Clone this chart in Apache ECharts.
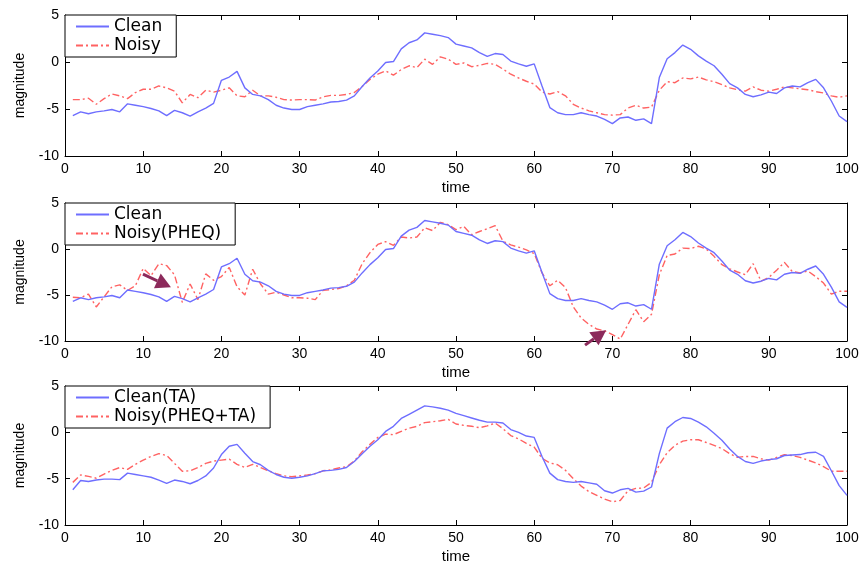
<!DOCTYPE html>
<html><head><meta charset="utf-8">
<script src="https://cdn.jsdelivr.net/npm/echarts@6/dist/echarts.min.js"></script>
<style>html,body{margin:0;padding:0;background:#fff}#c{width:862px;height:565px}</style>
</head><body><div id="c"></div>
<script>
const time = [1,2,3,4,5,6,7,8,9,10,11,12,13,14,15,16,17,18,19,20,21,22,23,24,25,26,27,28,29,30,31,32,33,34,35,36,37,38,39,40,41,42,43,44,45,46,47,48,49,50,51,52,53,54,55,56,57,58,59,60,61,62,63,64,65,66,67,68,69,70,71,72,73,74,75,76,77,78,79,80,81,82,83,84,85,86,87,88,89,90,91,92,93,94,95,96,97,98,99,100];

const clean = [-5.7,-5.3,-5.5,-5.3,-5.2,-5.05,-5.3,-4.45,-4.6,-4.75,
-4.95,-5.2,-5.7,-5.15,-5.4,-5.75,-5.3,-4.9,-4.4,-1.95,
-1.6,-1.0,-2.75,-3.45,-3.6,-4.0,-4.6,-4.9,-5.05,-5.05,
-4.75,-4.6,-4.45,-4.25,-4.2,-4.05,-3.6,-2.6,-1.7,-0.95,
-0.05,0.05,1.4,2.05,2.35,3.1,2.95,2.8,2.6,1.9,
1.7,1.5,1.0,0.6,0.9,0.8,0.1,-0.2,-0.45,-0.2,
-2.55,-4.85,-5.4,-5.6,-5.6,-5.4,-5.6,-5.75,-6.1,-6.55,
-5.95,-5.85,-6.2,-6.05,-6.55,-1.65,0.35,1.0,1.8,1.35,
0.65,0.1,-0.4,-1.3,-2.3,-2.75,-3.45,-3.7,-3.5,-3.2,
-3.35,-2.75,-2.55,-2.65,-2.2,-1.85,-2.75,-4.15,-5.75,-6.35];

const noisy = [-4.0,-4.0,-3.85,-4.5,-3.9,-3.4,-3.6,-3.9,-3.25,-2.9,
-2.9,-2.55,-2.75,-3.1,-4.35,-3.45,-3.8,-3.0,-3.2,-3.0,
-2.75,-3.6,-3.7,-3.0,-3.6,-3.6,-3.75,-4.0,-4.05,-4.0,
-4.0,-4.05,-3.7,-3.55,-3.55,-3.45,-3.25,-2.6,-1.85,-1.3,
-0.95,-1.4,-0.8,-0.4,-0.6,0.3,-0.25,0.55,0.3,-0.25,
-0.1,-0.5,-0.35,-0.15,-0.25,-0.75,-1.3,-1.7,-2.05,-2.35,
-3.2,-3.4,-3.15,-3.6,-4.5,-4.9,-5.2,-5.4,-5.6,-5.65,
-5.6,-4.9,-4.6,-4.9,-4.8,-3.0,-2.1,-2.2,-1.7,-1.8,
-1.6,-1.9,-2.1,-2.4,-2.75,-2.95,-3.1,-2.65,-3.0,-3.1,
-2.9,-2.65,-2.75,-2.85,-2.95,-3.15,-3.3,-3.6,-3.75,-3.6];

const noisyPHEQ = [-5.25,-5.3,-4.9,-6.3,-5.2,-4.1,-3.9,-4.5,-4.0,-2.1,
-2.9,-1.6,-1.8,-2.8,-5.8,-3.8,-5.5,-2.7,-3.4,-3.0,
-2.0,-4.1,-5.0,-2.2,-3.8,-4.9,-4.7,-5.0,-5.3,-5.3,
-5.35,-5.5,-4.5,-4.4,-4.3,-4.0,-3.4,-1.6,-0.4,0.5,
0.8,0.4,1.3,1.2,1.3,2.3,2.0,2.9,2.65,2.1,
2.45,1.55,1.9,2.2,2.55,0.85,0.45,0.2,-0.1,-0.5,
-2.6,-4.0,-3.4,-4.2,-6.3,-7.5,-8.2,-8.7,-8.9,-9.3,
-9.8,-8.2,-6.6,-7.9,-7.1,-2.8,-0.7,-0.55,0.1,0.05,
0.3,0.0,-0.8,-1.7,-2.15,-2.5,-2.8,-1.6,-3.5,-3.1,
-2.3,-1.45,-2.45,-2.6,-2.4,-3.0,-3.7,-4.9,-4.6,-4.6];

const cleanTA = [-6.2,-5.2,-5.3,-5.15,-5.05,-5.05,-5.1,-4.4,-4.55,-4.7,
-4.85,-5.15,-5.5,-5.15,-5.3,-5.55,-5.2,-4.7,-3.85,-2.4,
-1.5,-1.3,-2.25,-3.15,-3.5,-4.1,-4.55,-4.85,-4.95,-4.85,
-4.7,-4.45,-4.15,-4.1,-4.0,-3.8,-3.15,-2.3,-1.5,-0.8,
0.1,0.65,1.5,1.95,2.4,2.85,2.75,2.6,2.4,2.05,
1.8,1.55,1.3,1.1,1.1,1.0,0.3,0.0,-0.4,-0.55,
-2.6,-4.4,-5.1,-5.3,-5.4,-5.3,-5.45,-5.6,-6.3,-6.55,
-6.2,-6.05,-6.45,-6.35,-5.9,-2.3,0.45,1.15,1.6,1.5,
1.1,0.6,-0.1,-0.85,-1.8,-2.6,-3.15,-3.35,-3.1,-2.95,
-2.85,-2.5,-2.45,-2.4,-2.2,-2.15,-2.6,-4.15,-5.75,-6.8];

const noisyTA = [-5.4,-4.6,-4.75,-4.95,-4.5,-4.1,-3.8,-4.0,-3.45,-3.0,
-2.6,-2.3,-2.5,-3.35,-4.2,-4.15,-3.8,-3.35,-3.1,-3.0,
-2.9,-3.45,-3.8,-3.45,-3.8,-4.15,-4.45,-4.7,-4.8,-4.7,
-4.6,-4.45,-4.15,-4.05,-3.85,-3.7,-3.1,-2.1,-1.3,-0.55,
-0.2,-0.25,0.1,0.45,0.65,1.05,1.15,1.25,1.4,0.9,
0.75,0.65,0.5,0.7,1.0,0.4,-0.35,-0.7,-1.2,-1.6,
-2.8,-3.3,-3.5,-4.1,-5.0,-5.8,-6.4,-6.8,-7.2,-7.5,
-7.35,-6.3,-6.05,-6.0,-5.4,-3.5,-2.2,-1.4,-0.95,-0.8,
-0.8,-1.1,-1.4,-1.75,-2.3,-2.7,-2.6,-2.6,-2.85,-3.0,
-2.7,-2.4,-2.5,-2.7,-3.0,-3.3,-3.7,-4.2,-4.2,-4.2];

const xTicks = {min: 0, max: 100, interval: 10};
const yTicks = {min: -10, max: 5, interval: 5};

const panels = [
  {names: ['Clean', 'Noisy'], a: clean, b: noisy},
  {names: ['Clean', 'Noisy(PHEQ)'], a: clean, b: noisyPHEQ},
  {names: ['Clean(TA)', 'Noisy(PHEQ+TA)'], a: cleanTA, b: noisyTA}
];
// annotation arrows on panel 2 (data coords): [start, tip]
const arrows = [[[9.97, -2.74], [13.55, -4.15]], [[66.5, -10.45], [69.2, -8.82]]];

const FONT = 'Liberation Sans, Arial, sans-serif';
const LFONT = 'DejaVu Sans, sans-serif';
const BLUE = '#6e6eff', RED = '#ff6262', ARROW = '#8c2a5b';
const layout = [{top: 15, height: 141}, {top: 203, height: 138}, {top: 386, height: 141}];

const grid = [], xAxis = [], yAxis = [], series = [], legend = [];
panels.forEach((p, i) => {
  grid.push({left: 65, right: 15, top: layout[i].top, height: layout[i].height});
  const line = {onZero: false, lineStyle: {color: '#000', width: 1}};
  const tick = {inside: true, length: 5, lineStyle: {color: '#000', width: 1}};
  xAxis.push({type: 'value', gridIndex: i, min: xTicks.min, max: xTicks.max, interval: xTicks.interval,
    position: 'bottom', axisLine: line, axisTick: tick, splitLine: {show: false},
    axisLabel: {color: '#000', fontSize: 14, fontFamily: FONT, margin: 6},
    name: 'time', nameLocation: 'middle', nameGap: 24,
    nameTextStyle: {color: '#000', fontSize: 15, fontFamily: FONT}});
  xAxis.push({type: 'value', gridIndex: i, min: xTicks.min, max: xTicks.max, interval: xTicks.interval,
    position: 'top', axisLine: line, axisTick: tick, splitLine: {show: false}, axisLabel: {show: false}});
  yAxis.push({type: 'value', gridIndex: i, min: yTicks.min, max: yTicks.max, interval: yTicks.interval,
    position: 'left', axisLine: line, axisTick: tick, splitLine: {show: false},
    axisLabel: {color: '#000', fontSize: 14, fontFamily: FONT, margin: 6},
    name: 'magnitude', nameLocation: 'middle', nameGap: 38,
    nameTextStyle: {color: '#000', fontSize: 14, fontFamily: FONT}});
  yAxis.push({type: 'value', gridIndex: i, min: yTicks.min, max: yTicks.max, interval: yTicks.interval,
    position: 'right', axisLine: line, axisTick: tick, splitLine: {show: false}, axisLabel: {show: false}});
  series.push({name: p.names[0], type: 'line', xAxisIndex: 2 * i, yAxisIndex: 2 * i,
    data: time.map((t, k) => [t, p.a[k]]), symbol: 'none', showSymbol: false,
    lineStyle: {color: BLUE, width: 1.4}, itemStyle: {color: BLUE}, z: 3});
  series.push({name: p.names[1], type: 'line', xAxisIndex: 2 * i, yAxisIndex: 2 * i,
    data: time.map((t, k) => [t, p.b[k]]), symbol: 'none', showSymbol: false,
    lineStyle: {color: RED, width: 1.4, type: [7, 3, 2, 3]}, itemStyle: {color: RED}, z: 2});
  legend.push({left: 65, top: layout[i].top, orient: 'vertical', data: p.names,
    backgroundColor: '#fff', borderColor: '#000', borderWidth: 1, borderRadius: 0,
    padding: [3, 14, 3, 10], itemGap: 2, itemWidth: 33, itemHeight: 16, selectedMode: false,
    itemStyle: {color: 'rgba(0,0,0,0)', borderWidth: 0, opacity: 0},
    textStyle: {color: '#000', fontSize: 17, lineHeight: 16, fontFamily: LFONT}});
});

const chart = echarts.init(document.getElementById('c'), null, {renderer: 'canvas'});
chart.setOption({animation: false, backgroundColor: '#fff', grid, xAxis, yAxis, series, legend});

// arrows placed through the grid's own scales
const graphic = [];
arrows.forEach(a => {
  const p0 = chart.convertToPixel({gridIndex: 1}, a[0]);
  const p1 = chart.convertToPixel({gridIndex: 1}, a[1]);
  const dx = p1[0] - p0[0], dy = p1[1] - p0[1], L = Math.hypot(dx, dy);
  const ux = dx / L, uy = dy / L, hl = 15, hw = 8;
  const bx = p1[0] - ux * hl, by = p1[1] - uy * hl;
  graphic.push({type: 'line', z: 100, shape: {x1: p0[0], y1: p0[1], x2: bx, y2: by},
    style: {stroke: ARROW, lineWidth: 3}});
  graphic.push({type: 'polygon', z: 100, shape: {points: [[p1[0], p1[1]],
    [bx - uy * hw, by + ux * hw], [bx + uy * hw, by - ux * hw]]}, style: {fill: ARROW}});
});
chart.setOption({graphic});
</script></body></html>
